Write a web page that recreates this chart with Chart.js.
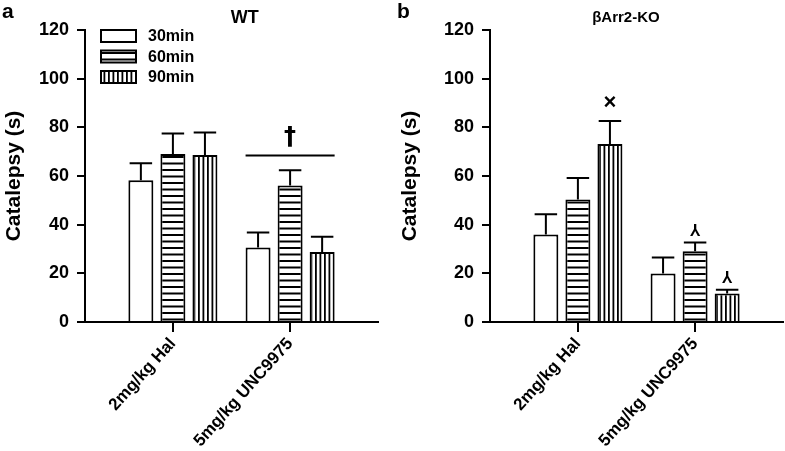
<!DOCTYPE html>
<html>
<head>
<meta charset="utf-8">
<script src="https://cdn.jsdelivr.net/npm/chart.js@4/dist/chart.umd.min.js"></script>
<style>
  html, body { margin: 0; padding: 0; background: #fff; }
  #wrap { position: relative; width: 785px; height: 451px; }
  canvas { position: absolute; top: 0; }
</style>
</head>
<body>
<div id="wrap">
  <canvas id="chartWT" width="392" height="451" style="left:0"></canvas>
  <canvas id="chartKO" width="393" height="451" style="left:392px"></canvas>
</div>
<script>
// Categories, legend labels and axis ticks
const categories = ["2mg/kg Hal", "5mg/kg UNC9975"];
const timeLabels = ["30min", "60min", "90min"];
const yTickValues = [0, 20, 40, 60, 80, 100, 120];

// WT panel: means and SEM (s)
const wt30 = [58.3, 30.6];
const wt30Err = [6.9, 6.2];
const wt60 = [69.0, 56.1];
const wt60Err = [8.5, 6.3];
const wt90 = [68.6, 28.8];
const wt90Err = [9.3, 6.2];

// bArr2-KO panel: means and SEM (s)
const ko30 = [36.0, 19.9];
const ko30Err = [8.3, 6.6];
const ko60 = [50.3, 29.1];
const ko60Err = [8.9, 3.6];
const ko90 = [73.1, 11.7];
const ko90Err = [9.5, 1.6];

// significance marks
const wtBracket = { index: 1, value: 68.4, mark: "\u2020" };
const koMarks = [
  { dataset: 2, index: 0, mark: "\u00d7" },
  { dataset: 1, index: 1, mark: "\u2144" },
  { dataset: 2, index: 1, mark: "\u2144" },
];

const FONT = "'Liberation Sans', Arial, Helvetica, sans-serif";

// Build the striped fills
function makePattern(kind) {
  const c = document.createElement("canvas");
  const g = c.getContext("2d");
  if (kind === "plain") {
    return "#fff";
  }
  if (kind === "horizontal") {
    c.width = 8;
    c.height = 13;
    g.fillStyle = "#fff";
    g.fillRect(0, 0, 8, 13);
    g.fillStyle = "#000";
    g.fillRect(0, 0, 8, 2);
    g.fillRect(0, 6.5, 8, 2);
  } else {
    c.width = 9;
    c.height = 8;
    g.fillStyle = "#fff";
    g.fillRect(0, 0, 9, 8);
    g.fillStyle = "#000";
    g.fillRect(0, 0, 1.8, 8);
    g.fillRect(4.5, 0, 1.8, 8);
  }
  return g.createPattern(c, "repeat");
}
const fills = [makePattern("plain"), makePattern("horizontal"), makePattern("vertical")];

function buildDatasets(series, errors) {
  return series.map((vals, s) => ({
    label: timeLabels[s],
    data: vals.map((v, i) => ({ x: i, y: v })),
    errors: errors[s],
    backgroundColor: fills[s],
    borderColor: "#000",
    borderWidth: 2,
    categoryPercentage: 0.82,
    barPercentage: 0.78,
  }));
}

// Upward-only error bars with caps
const errorBars = {
  id: "errorBars",
  afterDatasetsDraw(chart) {
    const ctx = chart.ctx;
    const yScale = chart.scales.y;
    chart.data.datasets.forEach((ds, di) => {
      chart.getDatasetMeta(di).data.forEach((bar, i) => {
        const top = yScale.getPixelForValue(ds.data[i].y + ds.errors[i]);
        const half = bar.width * 0.45;
        ctx.save();
        ctx.strokeStyle = "#000";
        ctx.lineWidth = 2;
        ctx.beginPath();
        ctx.moveTo(bar.x, bar.y);
        ctx.lineTo(bar.x, top);
        ctx.moveTo(bar.x - half, top);
        ctx.lineTo(bar.x + half, top);
        ctx.stroke();
        ctx.restore();
      });
    });
  },
};

// Panel letter, title, legend and significance marks
const decorations = {
  id: "decorations",
  afterDraw(chart, args, opts) {
    const ctx = chart.ctx;
    const area = chart.chartArea;
    const yScale = chart.scales.y;
    ctx.save();
    ctx.fillStyle = "#000";
    ctx.font = "bold 21px " + FONT;
    ctx.textAlign = "left";
    ctx.textBaseline = "alphabetic";
    ctx.fillText(opts.letter, opts.letterX, 18);

    ctx.font = opts.titleFont + " " + FONT;
    ctx.textAlign = "center";
    ctx.textBaseline = "middle";
    ctx.fillText(opts.title, area.left + area.width * opts.titleX, 18);

    if (opts.legend) {
      chart.data.datasets.forEach((ds, i) => {
        const bx = area.left + 15;
        const by = area.top - 1 + i * 20.5;
        ctx.fillStyle = ds.backgroundColor;
        ctx.fillRect(bx, by, 37, 14);
        ctx.strokeStyle = "#000";
        ctx.lineWidth = 2;
        ctx.strokeRect(bx + 1, by + 1, 35, 12);
        ctx.fillStyle = "#000";
        ctx.font = "bold 16px " + FONT;
        ctx.textAlign = "left";
        ctx.fillText(ds.label, bx + 48, by + 8);
      });
    }

    if (opts.bracket) {
      const b = opts.bracket;
      const first = chart.getDatasetMeta(0).data[b.index];
      const last = chart.getDatasetMeta(chart.data.datasets.length - 1).data[b.index];
      const y = yScale.getPixelForValue(b.value);
      ctx.strokeStyle = "#000";
      ctx.lineWidth = 2;
      ctx.beginPath();
      ctx.moveTo(first.x - first.width / 2, y);
      ctx.lineTo(last.x + last.width / 2, y);
      ctx.stroke();
      ctx.font = "bold 24px 'DejaVu Sans', " + FONT;
      ctx.textAlign = "center";
      ctx.textBaseline = "middle";
      ctx.fillText(b.mark, (first.x + last.x) / 2, y - 18);
    }

    (opts.marks || []).forEach((m) => {
      const ds = chart.data.datasets[m.dataset];
      const bar = chart.getDatasetMeta(m.dataset).data[m.index];
      const top = yScale.getPixelForValue(ds.data[m.index].y + ds.errors[m.index]);
      ctx.textAlign = "center";
      ctx.textBaseline = "middle";
      if (m.mark === "\u2144") {
        // turned Y, drawn as a rotated Y
        ctx.save();
        ctx.translate(bar.x, top - 14);
        ctx.rotate(Math.PI);
        ctx.font = "bold 16px " + FONT;
        ctx.fillText("Y", 0, 0);
        ctx.restore();
      } else {
        ctx.font = "bold 22px " + FONT;
        ctx.fillText(m.mark, bar.x, top - 18);
      }
    });
    ctx.restore();
  },
};

function makeChart(id, datasets, panel) {
  return new Chart(document.getElementById(id), {
    type: "bar",
    data: { datasets: datasets },
    plugins: [errorBars, decorations],
    options: {
      responsive: false,
      animation: false,
      layout: { padding: { left: panel.padLeft, right: panel.padRight, top: 30, bottom: 0 } },
      plugins: {
        legend: { display: false },
        tooltip: { enabled: false },
        decorations: panel.deco,
      },
      scales: {
        x: {
          type: "linear",
          min: -0.75,
          max: 1.75,
          offset: false,
          grid: { offset: false, drawOnChartArea: false, tickLength: 10, color: "#000", lineWidth: 2 },
          border: { color: "#000", width: 2 },
          afterBuildTicks: (s) => {
            s.ticks = categories.map((c, i) => ({ value: i }));
          },
          ticks: {
            autoSkip: false,
            minRotation: 48,
            maxRotation: 48,
            padding: 2,
            color: "#000",
            font: { family: FONT, size: 17, weight: "bold" },
            callback: (v) => categories[v],
          },
          afterFit: (s) => {
            s.height = 129;
          },
        },
        y: {
          min: 0,
          max: 120,
          grid: { drawOnChartArea: false, tickLength: 8, color: "#000", lineWidth: 2 },
          border: { color: "#000", width: 2 },
          afterBuildTicks: (s) => {
            s.ticks = yTickValues.map((v) => ({ value: v }));
          },
          ticks: {
            padding: 8,
            color: "#000",
            font: { family: FONT, size: 18, weight: "bold" },
          },
          title: {
            display: true,
            text: "Catalepsy (s)",
            color: "#000",
            font: { family: FONT, size: 21, weight: "bold" },
            padding: { top: 2, bottom: 0 },
          },
          afterFit: (s) => {
            s.width = panel.yWidth;
          },
        },
      },
    },
  });
}

makeChart("chartWT", buildDatasets([wt30, wt60, wt90], [wt30Err, wt60Err, wt90Err]), {
  padLeft: 0,
  padRight: 14,
  yWidth: 85,
  deco: { letter: "a", letterX: 2, title: "WT", titleFont: "bold 18px", titleX: 0.545, legend: true, bracket: wtBracket },
});

makeChart("chartKO", buildDatasets([ko30, ko60, ko90], [ko30Err, ko60Err, ko90Err]), {
  padLeft: 4,
  padRight: 2,
  yWidth: 94,
  deco: { letter: "b", letterX: 5, title: "\u03b2Arr2-KO", titleFont: "bold 15px", titleX: 0.464, legend: false, marks: koMarks },
});
</script>
</body>
</html>
